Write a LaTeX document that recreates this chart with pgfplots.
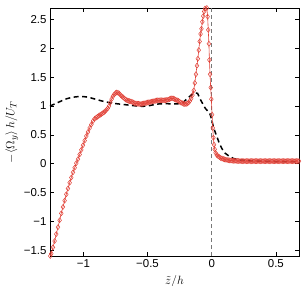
\documentclass[border=0pt]{standalone}
\usepackage{fontspec}
\setmainfont{Liberation Sans}
\usepackage{pgfplots}
\pgfplotsset{compat=1.18}
\definecolor{myred}{RGB}{225,65,55}
\definecolor{mygray}{RGB}{120,120,120}
\begin{document}
\begin{tikzpicture}
\begin{axis}[
  scale only axis,
  width=249bp, height=248bp,
  xmin=-1.26, xmax=0.68,
  ymin=-1.6, ymax=2.7,
  xtick={-1,-0.5,0,0.5},
  xticklabels={−1,−0.5,0,0.5},
  ytick={-1.5,-1,-0.5,0,0.5,1,1.5,2,2.5},
  yticklabels={−1.5,−1,−0.5,0,0.5,1,1.5,2,2.5},
  tick label style={font=\fontsize{11.5}{13}\selectfont},
  xlabel={$\tilde{z}/h$},
  ylabel={$-\langle \Omega_y\rangle\, h/U_T$},
  label style={font=\fontsize{13}{15}\selectfont},
  xlabel shift=1bp,
  ylabel shift=-1bp,
  axis line style={line width=0.8pt},
  major tick length=4bp,
  tick style={black, line width=0.5pt},
]
\addplot[mygray, line width=0.6pt, dash pattern=on 4pt off 3pt] coordinates {(0,-1.6) (0,2.7)};
\addplot[black, line width=1.5pt, dash pattern=on 5pt off 3.5pt] coordinates {
(-1.26,1.0) (-1.22,1.04) (-1.18,1.08) (-1.14,1.12) (-1.10,1.145) (-1.06,1.16) (-1.02,1.165)
(-0.98,1.16) (-0.94,1.14) (-0.90,1.115) (-0.86,1.09) (-0.82,1.07) (-0.78,1.05) (-0.74,1.04)
(-0.70,1.03) (-0.66,1.02) (-0.62,1.01) (-0.58,1.0) (-0.54,0.995) (-0.50,1.0) (-0.46,1.02)
(-0.42,1.035) (-0.38,1.04) (-0.34,1.04) (-0.30,1.035) (-0.26,1.04) (-0.22,1.07) (-0.19,1.13)
(-0.16,1.19) (-0.13,1.23) (-0.11,1.22) (-0.09,1.12) (-0.07,1.04) (-0.05,0.96) (-0.03,0.91)
(-0.013,0.86) (0.0,0.76) (0.012,0.65) (0.025,0.56) (0.04,0.47) (0.06,0.35) (0.08,0.26)
(0.10,0.19) (0.13,0.14) (0.17,0.09) (0.22,0.065) (0.30,0.05) (0.40,0.042) (0.50,0.038)
(0.60,0.036) (0.68,0.035)};
\addplot[myred, line width=0.6pt, mark=diamond, mark size=2.5pt, mark options={solid, line width=0.5pt}] coordinates {
(-1.258,-1.60) (-1.25,-1.56) (-1.237,-1.45) (-1.224,-1.34) (-1.211,-1.22) (-1.198,-1.10)
(-1.185,-0.98) (-1.172,-0.86) (-1.159,-0.75) (-1.146,-0.64) (-1.133,-0.53) (-1.120,-0.43)
(-1.107,-0.33) (-1.094,-0.24) (-1.081,-0.15) (-1.068,-0.07) (-1.055,0.01) (-1.042,0.08)
(-1.029,0.16) (-1.016,0.24) (-1.003,0.32) (-0.99,0.40) (-0.977,0.48) (-0.964,0.55)
(-0.951,0.62) (-0.938,0.68) (-0.925,0.74) (-0.912,0.78) (-0.90,0.80) (-0.89,0.815)
(-0.88,0.83) (-0.87,0.845) (-0.86,0.86) (-0.85,0.875) (-0.84,0.89) (-0.83,0.91)
(-0.82,0.935) (-0.81,0.96) (-0.80,1.0) (-0.79,1.06) (-0.78,1.12) (-0.77,1.17)
(-0.76,1.20) (-0.75,1.225) (-0.74,1.235) (-0.73,1.23) (-0.72,1.215) (-0.71,1.19)
(-0.70,1.17) (-0.69,1.15) (-0.68,1.13) (-0.67,1.115) (-0.66,1.10) (-0.65,1.09)
(-0.64,1.085) (-0.63,1.08) (-0.62,1.07) (-0.61,1.06) (-0.60,1.05) (-0.59,1.045)
(-0.58,1.04) (-0.57,1.04) (-0.56,1.035) (-0.55,1.035) (-0.54,1.04) (-0.53,1.045)
(-0.52,1.05) (-0.51,1.055) (-0.50,1.06) (-0.49,1.065) (-0.48,1.07) (-0.47,1.075)
(-0.46,1.08) (-0.45,1.085) (-0.44,1.09) (-0.43,1.095) (-0.42,1.10) (-0.41,1.10)
(-0.40,1.10) (-0.39,1.10) (-0.38,1.10) (-0.37,1.10) (-0.36,1.10) (-0.35,1.105)
(-0.34,1.11) (-0.33,1.12) (-0.32,1.13) (-0.31,1.135) (-0.30,1.13) (-0.29,1.12)
(-0.28,1.11) (-0.27,1.10) (-0.26,1.09) (-0.25,1.075) (-0.24,1.06) (-0.23,1.05)
(-0.22,1.04) (-0.21,1.035) (-0.20,1.035) (-0.19,1.045) (-0.18,1.06) (-0.17,1.09)
(-0.16,1.13) (-0.15,1.19) (-0.14,1.27) (-0.132,1.40) (-0.123,1.55) (-0.115,1.70)
(-0.108,1.82) (-0.101,1.97) (-0.094,2.12) (-0.087,2.25) (-0.080,2.34) (-0.073,2.46)
(-0.066,2.56) (-0.059,2.64) (-0.052,2.69) (-0.045,2.72) (-0.038,2.70) (-0.032,2.55)
(-0.027,2.32) (-0.022,2.08) (-0.018,1.80) (-0.013,1.55) (-0.008,1.32) (-0.003,1.12)
(0.003,0.85) (0.008,0.62) (0.013,0.45) (0.018,0.33) (0.023,0.25) (0.03,0.19)
(0.04,0.15) (0.05,0.13) (0.06,0.115) (0.07,0.10) (0.08,0.09) (0.09,0.082)
(0.10,0.075) (0.11,0.07) (0.12,0.065) (0.13,0.061) (0.14,0.058) (0.15,0.055)
(0.16,0.053) (0.17,0.051) (0.18,0.05) (0.19,0.049) (0.20,0.048) (0.21,0.047)
(0.22,0.046) (0.23,0.046) (0.24,0.045) (0.25,0.045) (0.26,0.045) (0.27,0.045)
(0.28,0.045) (0.29,0.045) (0.30,0.045) (0.31,0.045) (0.32,0.045) (0.33,0.045)
(0.34,0.045) (0.35,0.045) (0.36,0.045) (0.37,0.045) (0.38,0.045) (0.39,0.045)
(0.40,0.045) (0.41,0.045) (0.42,0.045) (0.43,0.045) (0.44,0.045) (0.45,0.045)
(0.46,0.045) (0.47,0.045) (0.48,0.045) (0.49,0.045) (0.50,0.045) (0.51,0.045)
(0.52,0.045) (0.53,0.045) (0.54,0.045) (0.55,0.045) (0.56,0.045) (0.57,0.045)
(0.58,0.045) (0.59,0.045) (0.60,0.045) (0.61,0.045) (0.62,0.045) (0.63,0.045)
(0.64,0.045) (0.65,0.045) (0.66,0.045) (0.67,0.045) (0.68,0.045)};
\end{axis}
\pgfresetboundingbox
\path (current axis.south west) ++(-50bp,-30bp) rectangle ([shift={(6bp,8bp)}]current axis.north east);
\end{tikzpicture}
\end{document}
